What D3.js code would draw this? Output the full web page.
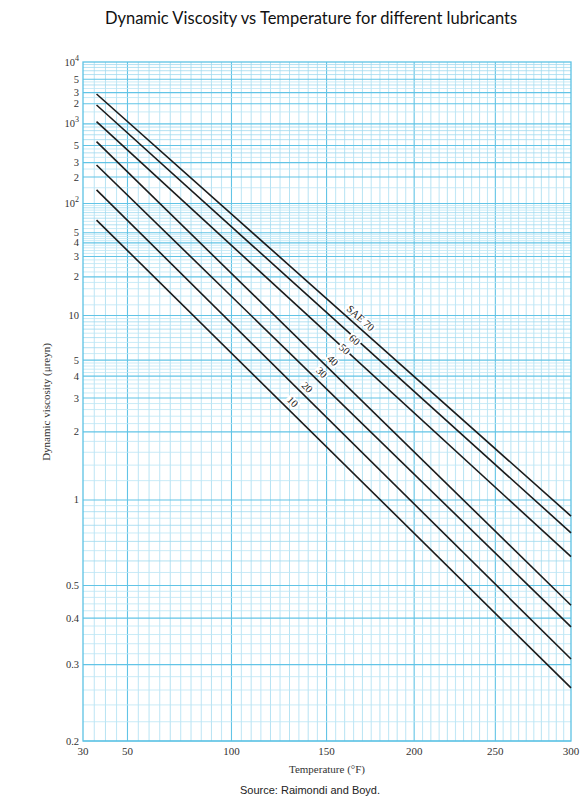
<!DOCTYPE html>
<html lang="en">
<head>
<meta charset="utf-8">
<title>Dynamic Viscosity vs Temperature for different lubricants</title>
<script src="https://d3js.org/d3.v7.min.js"></script>
<style>
  body { margin: 0; background: #fff; }
  svg { display: block; }
  .tick-label { font-family: "Liberation Serif", "DejaVu Serif", serif; font-size: 11px; fill: #333; }
  .ytick { font-size: 10.5px; }
  .axis-title { font-family: "Liberation Serif", "DejaVu Serif", serif; font-size: 11px; fill: #333; }
  .sae-label { font-family: "Liberation Serif", "DejaVu Serif", serif; font-size: 10.5px; fill: #222; }
</style>
</head>
<body>
<div id="chart"></div>
<script>
// SAE grades and their viscosity (micro-reyn) at the two ends of each line
var grades = ["10", "20", "30", "40", "50", "60", "SAE 70"];
var startTemp = 36, endTemp = 300;                      // deg F
var viscAtStart = [67, 142, 280, 564, 1075, 1910, 2850];
var viscAtEnd = [0.263, 0.310, 0.378, 0.436, 0.620, 0.751, 0.866];
var labelTemp = [131.8, 139.5, 147.4, 153.4, 160, 165.6, 169];

// axis ticks
var xTicks = [30, 50, 100, 150, 200, 250, 300];
var yTicks = [0.2, 0.3, 0.4, 0.5, 1, 2, 3, 4, 5, 10, 20, 30, 40, 50, 100, 200, 300, 500, 1000, 2000, 3000, 5000, 10000];
var yTickLabels = ["0.2", "0.3", "0.4", "0.5", "1", "2", "3", "4", "5", "10", "2", "3", "4", "5",
                   "10^2", "2", "3", "5", "10^3", "2", "3", "5", "10^4"];

var W = 585, H = 809;
var plot = {left: 83, right: 571, top: 62, bottom: 741};

var svg = d3.select("#chart").append("svg")
    .attr("width", W).attr("height", H);

// x: log of absolute temperature (Rankine)
var x = d3.scaleLog()
    .domain([30 + 459.67, 300 + 459.67])
    .range([plot.left, plot.right]);
var xv = function(f) { return x(f + 459.67); };

// y: ASTM style double log
var tf = function(v) { return Math.log10(Math.log10(10 * v + 0.7)); };
var y = d3.scaleLinear()
    .domain([tf(0.2), tf(10000)])
    .range([plot.bottom, plot.top]);
var yv = function(v) { return y(tf(v)); };

var grid = svg.append("g");

// vertical grid every 5 F
d3.range(35, 300, 5).forEach(function(f) {
    var major = f % 50 === 0, mid = f % 10 === 0;
    grid.append("line")
        .attr("x1", xv(f)).attr("x2", xv(f))
        .attr("y1", plot.top).attr("y2", plot.bottom)
        .attr("stroke", major ? "#62c4e6" : (mid ? "#a5dcf0" : "#c3e8f6"))
        .attr("stroke-width", major ? 1.1 : (mid ? 0.8 : 1.1));
});

// horizontal grid
var hLines = [];
[0.1, 1, 10, 100, 1000].forEach(function(b) {
    var fine = b < 100;
    var ms = fine ? d3.range(1, 5, 0.2).concat(d3.range(5, 10, 0.5))
                  : d3.range(1, 5, 0.5).concat(d3.range(5, 10, 1));
    ms.forEach(function(m) {
        var v = +(m * b).toPrecision(4);
        if (v >= 0.2 && v <= 10000) hLines.push(v);
    });
});
hLines.forEach(function(v) {
    var major = yTicks.indexOf(v) >= 0;
    var mant = v / Math.pow(10, Math.floor(Math.log10(v) + 1e-9));
    var mid = Math.abs(mant - Math.round(mant)) < 1e-6;
    grid.append("line")
        .attr("x1", plot.left).attr("x2", plot.right)
        .attr("y1", yv(v)).attr("y2", yv(v))
        .attr("stroke", major ? "#62c4e6" : (mid ? "#9fd9ef" : "#bde6f5"))
        .attr("stroke-width", major ? 1.1 : 0.8);
});

// frame
svg.append("rect")
    .attr("x", plot.left).attr("y", plot.top)
    .attr("width", plot.right - plot.left).attr("height", plot.bottom - plot.top)
    .attr("fill", "none").attr("stroke", "#5cc2e4").attr("stroke-width", 1.3);

// x tick labels
svg.selectAll(".xt").data(xTicks).enter().append("text")
    .attr("class", "tick-label")
    .attr("x", function(d) { return xv(d); })
    .attr("y", 755)
    .attr("text-anchor", "middle")
    .text(function(d) { return d; });

// y tick labels
yTicks.forEach(function(v, i) {
    var lab = yTickLabels[i];
    var t = svg.append("text")
        .attr("class", "tick-label ytick")
        .attr("x", 79)
        .attr("y", yv(v) + 3.5)
        .attr("text-anchor", "end");
    if (lab.indexOf("^") > 0) {
        var p = lab.split("^");
        t.append("tspan").text(p[0]);
        t.append("tspan").attr("dy", -5).attr("font-size", "8px").text(p[1]);
    } else {
        t.text(lab);
    }
});

// axis titles
svg.append("text").attr("class", "axis-title")
    .attr("x", 327).attr("y", 773)
    .attr("text-anchor", "middle")
    .text("Temperature (\u00B0F)");

svg.append("text").attr("class", "axis-title")
    .attr("transform", "translate(50,402) rotate(-90)")
    .attr("text-anchor", "middle")
    .text("Dynamic viscosity (\u03BCreyn)");

// viscosity lines
var line = d3.line()
    .x(function(d) { return xv(d.t); })
    .y(function(d) { return yv(d.v); });

var series = grades.map(function(g, i) {
    return {grade: g, pts: [{t: startTemp, v: viscAtStart[i]}, {t: endTemp, v: viscAtEnd[i]}]};
});

svg.selectAll(".visc").data(series).enter().append("path")
    .attr("class", "visc")
    .attr("d", function(d) { return line(d.pts); })
    .attr("fill", "none")
    .attr("stroke", "#1b1b1b")
    .attr("stroke-width", 1.6);

// grade labels, sitting along each line
var labelLift = [12, 11, 12, 12, 0, -2, 11];
series.forEach(function(s, i) {
    var x0 = xv(startTemp), y0 = yv(viscAtStart[i]);
    var x1 = xv(endTemp), y1 = yv(viscAtEnd[i]);
    var lx = xv(labelTemp[i]);
    var ly = y0 + (y1 - y0) * (lx - x0) / (x1 - x0) - labelLift[i];
    var ang = Math.atan2(y1 - y0, x1 - x0) * 180 / Math.PI;
    var g = svg.append("g").attr("transform", "translate(" + lx + "," + ly + ") rotate(" + ang + ")");
    var bg = g.append("rect").attr("fill", "#fff");
    var txt = g.append("text").attr("class", "sae-label")
        .attr("text-anchor", "middle").attr("dy", "0.35em")
        .text(s.grade);
    var bb = txt.node().getBBox();
    bg.attr("x", bb.x - 1.5).attr("y", bb.y + 1).attr("width", bb.width + 3).attr("height", bb.height - 2);
});

// title and source
svg.append("text")
    .attr("x", 311).attr("y", 24)
    .attr("text-anchor", "middle")
    .style("font-family", "Lato, 'Open Sans', sans-serif")
    .style("font-size", "16.5px")
    .style("fill", "#111")
    .text("Dynamic Viscosity vs Temperature for different lubricants");

svg.append("text")
    .attr("x", 310).attr("y", 794)
    .attr("text-anchor", "middle")
    .style("font-family", "'Liberation Sans', Arial, sans-serif")
    .style("font-size", "11px")
    .style("fill", "#222")
    .text("Source: Raimondi and Boyd.")
</script>
</body>
</html>
